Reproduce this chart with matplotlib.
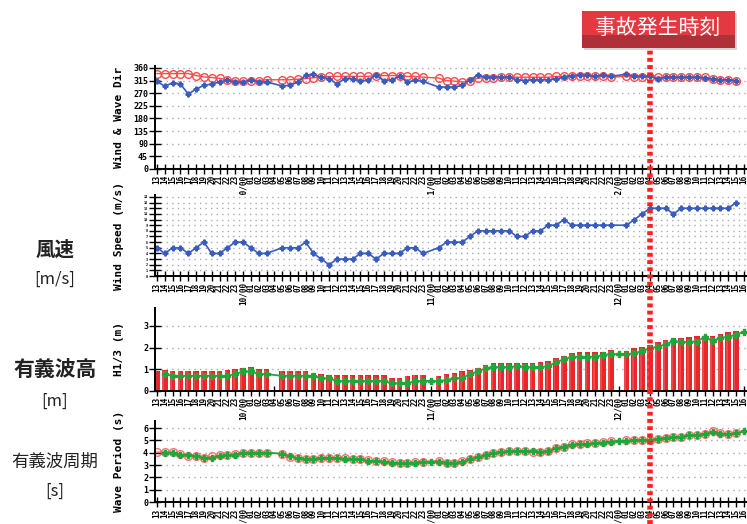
import numpy as np
import matplotlib
matplotlib.use("Agg")
import matplotlib.pyplot as plt
from matplotlib.lines import Line2D
from matplotlib.patches import Rectangle

nan = np.nan

# hourly time axis: 9th 13:00 .. 12th 16:00
start_day, start_hour, n_hours = 9, 13, 76
accident_idx = 63  # 12th 04:00

wind_dir = [312, 295, 307, 303, 267, 285, 298, 303, 310, 316, 309, 309, 318, 310, 310, nan,
            296, 298, 310, 334, 338, 327, 322, 303, 322, 322, 312, 318, 334, 315, 318, 330,
            310, 316, 312, nan, 292, 292, 292, 298, 318, 334, 327, 327, 327, 327, 318, 315,
            318, 318, 318, 321, 327, 333, 334, 334, 330, 336, 330, nan, 338, 330, 330, 330,
            321, 327, 327, 327, 327, 327, 324, 321, 318, 318, 315, nan]
wave_dir = [340, 340, 340, 340, 340, 333, 328, 326, 323, 318, 315, 313, 313, 315, 318, nan,
            318, 318, 320, 322, 325, 328, 330, 330, 330, 330, 330, 330, 333, 333, 333, 333,
            330, 330, 327, nan, 324, 315, 313, 310, 313, 324, 326, 326, 327, 327, 327, 327,
            327, 327, 327, 330, 330, 333, 333, 330, 330, 330, 327, nan, 330, 327, 327, 327,
            327, 327, 327, 327, 327, 327, 327, 321, 318, 318, 315, nan]
wind_speed = [5, 4, 5, 5, 4, 5, 6, 4, 4, 5, 6, 6, 5, 4, 4, nan,
              5, 5, 5, 6, 4, 3, 2, 3, 3, 3, 4, 4, 3, 4, 4, 4,
              5, 5, 4, nan, 5, 6, 6, 6, 7, 8, 8, 8, 8, 8, 7, 7,
              8, 8, 9, 9, 10, 9, 9, 9, 9, 9, 9, nan, 9, 10, 11, 12,
              12, 12, 11, 12, 12, 12, 12, 12, 12, 12, 13, nan]
h13_obs = [0.9, 0.97, 0.93, 0.93, 0.93, 0.93, 0.93, 0.93, 0.93, 0.97, 1.0, 1.05, 1.1, 1.0, 1.0, nan,
           0.93, 0.93, 0.93, 0.93, 0.85, 0.78, 0.72, 0.72, 0.72, 0.72, 0.72, 0.72, 0.72, 0.72, 0.6, 0.62,
           0.7, 0.74, 0.74, nan, 0.7, 0.77, 0.82, 0.9, 0.97, 1.08, 1.2, 1.28, 1.28, 1.28, 1.28, 1.28,
           1.28, 1.32, 1.38, 1.54, 1.63, 1.74, 1.78, 1.78, 1.78, 1.78, 1.9, nan, 1.85, 1.97, 2.05, 2.12,
           2.28, 2.37, 2.43, 2.46, 2.49, 2.54, 2.55, 2.55, 2.65, 2.7, 2.77, nan]
h13_line = [nan, 0.78, 0.7, 0.7, 0.7, 0.7, 0.7, 0.7, 0.7, 0.7, 0.78, 0.9, 0.9, 0.78, 0.78, nan,
            0.7, 0.7, 0.7, 0.7, 0.7, 0.58, 0.58, 0.46, 0.46, 0.46, 0.46, 0.46, 0.46, 0.46, 0.35, 0.35,
            0.35, 0.46, 0.46, 0.46, 0.46, 0.5, 0.58, 0.6, 0.78, 0.9, 1.05, 1.1, 1.1, 1.1, 1.15, 1.1,
            1.1, 1.1, 1.15, 1.32, 1.46, 1.58, 1.58, 1.58, 1.58, 1.66, 1.7, 1.7, 1.7, 1.74, 1.85, 1.97,
            2.05, 2.15, 2.3, 2.25, 2.28, 2.28, 2.5, 2.3, 2.46, 2.5, 2.6, 2.74]
period_obs = [4.05, 4.05, 4.03, 3.86, 3.75, 3.75, 3.55, 3.7, 3.78, 3.78, 3.9, 4.0, 4.0, 4.0, 4.0, nan,
              3.9, 3.67, 3.54, 3.49, 3.49, 3.54, 3.54, 3.54, 3.54, 3.49, 3.46, 3.37, 3.3, 3.3, 3.22, 3.14,
              3.17, 3.22, 3.27, nan, 3.35, 3.2, 3.14, 3.3, 3.49, 3.67, 3.8, 4.0, 4.07, 4.15, 4.15, 4.13,
              4.08, 4.05, 4.15, 4.37, 4.48, 4.69, 4.69, 4.75, 4.75, 4.83, 4.91, nan, 4.99, 4.99, 4.99, 5.01,
              5.15, 5.23, 5.28, 5.28, 5.42, 5.47, 5.55, 5.76, 5.6, 5.5, 5.6, nan]
period_line = [nan, 4.0, 4.0, 3.85, 3.78, 3.75, 3.6, 3.55, 3.75, 3.8, 3.85, 4.0, 4.0, 4.0, 4.0, nan,
               3.92, 3.7, 3.55, 3.5, 3.5, 3.55, 3.55, 3.55, 3.52, 3.5, 3.45, 3.3, 3.35, 3.27, 3.2, 3.15,
               3.15, 3.2, 3.25, 3.27, 3.25, 3.2, 3.17, 3.25, 3.45, 3.62, 3.8, 3.95, 4.05, 4.12, 4.15, 4.12,
               4.1, 4.08, 4.12, 4.35, 4.5, 4.65, 4.7, 4.72, 4.78, 4.82, 4.9, 4.95, 4.97, 5.0, 5.0, 5.02,
               5.12, 5.2, 5.25, 5.3, 5.4, 5.45, 5.5, 5.65, 5.55, 5.5, 5.58, 5.74]

dir_ticks = [0, 45, 90, 135, 180, 225, 270, 315, 360]
speed_ticks = list(range(0, 15))
h13_ticks = [0, 1, 2, 3]
period_ticks = [0, 1, 2, 3, 4, 5, 6]

hours = np.arange(n_hours)
tick_labels = []
for i in hours:
    h = (start_hour + i) % 24
    d = start_day + (start_hour + i) // 24
    tick_labels.append(f"{d}/00" if h == 0 else f"{h:02d}")

W, H = 747, 524
fig = plt.figure(figsize=(W / 100, H / 100), dpi=100)

BLUE = "#3a5cbf"
RED = "#ff4a4a"
GREEN = "#1ea83a"
BAR = "#e8262b"
mono = "DejaVu Sans Mono"


def make_axes(top, bottom, ylim, yticks, ylabel, ytick_size=6):
    ax = fig.add_axes([155 / W, 1 - bottom / H, (747 - 155) / W, (bottom - top) / H])
    ax.set_xlim(-0.25, 75.4)
    ax.set_ylim(*ylim)
    for s in ("top", "right"):
        ax.spines[s].set_visible(False)
    for s in ("left", "bottom"):
        ax.spines[s].set_linewidth(1.4)
    ax.set_xticks(hours)
    ax.set_xticklabels(tick_labels, rotation=90, fontsize=5.5, family=mono,
                       fontweight="bold", va="top")
    ax.set_yticks(yticks)
    ax.set_yticklabels([str(t) for t in yticks], fontsize=ytick_size, family=mono,
                       fontweight="bold")
    ax.tick_params(axis="x", direction="inout", length=7, width=1, pad=1)
    ax.tick_params(axis="y", direction="inout", length=8, width=1, pad=1)
    ax.yaxis.grid(True, linestyle=(0, (1, 3)), color="#aaaaaa", linewidth=1)
    ax.set_axisbelow(True)
    ax.text(119 / W, 1 - ((top + bottom) / 2) / H, ylabel, transform=fig.transFigure,
            rotation=90, ha="center", va="center", fontsize=8, family=mono,
            fontweight="bold")
    return ax


def plot_connected(ax, y, **kw):
    y = np.asarray(y, dtype=float)
    m = ~np.isnan(y)
    ax.plot(hours[m], y[m], **kw)


# wind & wave direction
ax1 = make_axes(66, 169, (0, 367), dir_ticks, "Wind & Wave Dir")
plot_connected(ax1, wave_dir, color=RED, lw=1, marker="o", ms=5.5, mfc="none",
               mec=RED, mew=1)
plot_connected(ax1, wind_dir, color=BLUE, lw=1.2, marker="P", ms=3.5, mec=BLUE)

# wind speed
ax2 = make_axes(195, 276, (0, 14.35), speed_ticks, "Wind Speed (m/s)", ytick_size=2.5)
plot_connected(ax2, wind_speed, color=BLUE, lw=1.2, marker="P", ms=3.5, mec=BLUE)

# significant wave height
ax3 = make_axes(308, 391, (0, 3.83), h13_ticks, "H1/3 (m)")
obs = np.asarray(h13_obs, dtype=float)
ax3.bar(hours, obs, width=0.72, color=BAR, zorder=2)
ax3.bar(hours - 0.2, obs * 0.97, width=0.25, color="#f04848", zorder=2)
plot_connected(ax3, h13_line, color=GREEN, lw=1.3, marker="P", ms=4, mec=GREEN, zorder=3)

# wave period
ax4 = make_axes(421, 502, (0, 6.57), period_ticks, "Wave Period (s)")
plot_connected(ax4, period_obs, color=RED, lw=1, marker="o", ms=5.5, mfc="none",
               mec=RED, mew=1, alpha=0.8)
plot_connected(ax4, period_line, color=GREEN, lw=1.3, marker="P", ms=4, mec=GREEN)

# Japanese labels on the left
jp = ["Noto Sans CJK JP", "DejaVu Sans"]
left_labels = [("風速", 250, 14, "bold"), ("[m/s]", 279, 12, "normal"),
               ("有義波高", 370, 15, "bold"), ("[m]", 401, 12, "normal"),
               ("有義波周期", 462, 12.5, "normal"), ("[s]", 491, 12, "normal")]
for txt, y, size, weight in left_labels:
    fig.text(55 / W, 1 - y / H, txt, ha="center", va="center", fontsize=size,
             fontweight=weight, family=jp, color="#222222")

# accident time marker
fig.canvas.draw()
xd, _ = ax1.transData.transform((accident_idx, 0))
xf = fig.transFigure.inverted().transform((xd, 0))[0]
fig.add_artist(Line2D([xf, xf], [0, 1 - 48 / H], transform=fig.transFigure,
                      color="#ff2020", lw=4, linestyle=(0, (0.7, 0.6)), zorder=10))

fig.add_artist(Rectangle((584 / W, 1 - 50 / H), 153 / W, 37 / H, transform=fig.transFigure,
                         facecolor="#999999", edgecolor="none", alpha=0.4, zorder=10))
fig.add_artist(Rectangle((582 / W, 1 - 48 / H), 153 / W, 37 / H, transform=fig.transFigure,
                         facecolor="#e23a40", edgecolor="none", zorder=11))
fig.add_artist(Rectangle((582 / W, 1 - 48 / H), 153 / W, 13 / H, transform=fig.transFigure,
                         facecolor="#b0303a", edgecolor="none", zorder=11))
fig.text(658 / W, 1 - 28 / H, "事故発生時刻", ha="center", va="center", fontsize=15,
         family=jp, color="white", zorder=12)

fig.savefig("out.png", dpi=100)
